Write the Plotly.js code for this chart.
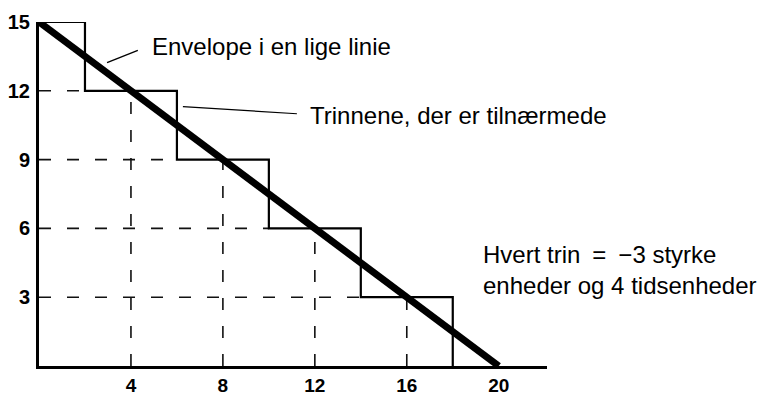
<!DOCTYPE html>
<html>
<head>
<meta charset="utf-8">
<script src="https://cdn.plot.ly/plotly-3.0.1.min.js"></script>
<style>
  html, body { margin: 0; padding: 0; background: #ffffff; }
  #chart { width: 759px; height: 395px; }
</style>
</head>
<body>
<div id="chart"></div>
<script>
// Staircase of discrete steps (strength vs. time)
const stepX = [0, 2, 2, 6, 6, 10, 10, 14, 14, 18, 18];
const stepY = [15, 15, 12, 12, 9, 9, 6, 6, 3, 3, 0];

// Straight-line envelope through the steps
const envelopeX = [0, 20];
const envelopeY = [15, 0];

// Guide points where the envelope crosses each step level
const guideX = [4, 8, 12, 16];
const guideY = [12, 9, 6, 3];
// Left edge of the step at each guide level
const stepLeftX = [2, 6, 10, 14];

// Axis ticks
const xTicks = [4, 8, 12, 16, 20];
const xTickText = ['4', '8', '12', '16', '20'];
const yTicks = [3, 6, 9, 12, 15];
const yTickText = ['3', '6', '9', '12', '15'];

// Labels and their leader lines
const labelEnvelope = 'Envelope i en lige linie';
const labelSteps = 'Trinnene, der er tilnærmede';
const labelNote = 'Hvert trin\u2002=\u2002−3 styrke<br>enheder og 4 tidsenheder';
const leaderEnvelopeX = [2.96, 4.30];
const leaderEnvelopeY = [13.23, 13.76];
const leaderStepsX = [6.26, 11.22];
const leaderStepsY = [11.31, 11.0];

// Dashed guide segments: horizontal from the y axis to the step,
// vertical from the x axis up to the envelope
const hDashX = [], hDashY = [], vDashX = [], vDashY = [];
guideY.forEach((y, i) => {
  hDashX.push(0, stepLeftX[i], null);
  hDashY.push(y, y, null);
});
guideX.forEach((x, i) => {
  vDashX.push(x, x, null);
  vDashY.push(0, guideY[i], null);
});

const fontFamily = '"Liberation Sans", Arial, Helvetica, sans-serif';
const dashStyle = {color: '#111', width: 1.6, dash: '12px,16px'};

const traces = [
  {x: hDashX, y: hDashY, mode: 'lines', line: dashStyle, hoverinfo: 'skip', cliponaxis: false},
  {x: vDashX, y: vDashY, mode: 'lines', line: dashStyle, hoverinfo: 'skip', cliponaxis: false},
  {x: stepX, y: stepY, mode: 'lines', line: {color: '#000', width: 2.2}, cliponaxis: false},
  {x: envelopeX, y: envelopeY, mode: 'lines', line: {color: '#000', width: 7}, cliponaxis: false},
  {x: leaderEnvelopeX, y: leaderEnvelopeY, mode: 'lines', line: {color: '#000', width: 1.4}, cliponaxis: false},
  {x: leaderStepsX, y: leaderStepsY, mode: 'lines', line: {color: '#000', width: 1.2}, cliponaxis: false}
];

const layout = {
  width: 759,
  height: 395,
  margin: {l: 39, r: 212, t: 22, b: 29},
  paper_bgcolor: '#ffffff',
  plot_bgcolor: '#ffffff',
  showlegend: false,
  font: {family: fontFamily, color: '#000'},
  xaxis: {
    range: [0, 22.1],
    showgrid: false,
    zeroline: false,
    showline: true,
    linecolor: '#000',
    linewidth: 3,
    ticks: '',
    tickvals: xTicks,
    ticktext: xTickText,
    tickfont: {family: fontFamily, size: 19, weight: 'bold', color: '#000'},
    ticklabelstandoff: 0,
    fixedrange: true
  },
  yaxis: {
    range: [0, 15],
    showgrid: false,
    zeroline: false,
    showline: true,
    linecolor: '#000',
    linewidth: 3,
    ticks: '',
    tickvals: yTicks,
    ticktext: yTickText,
    tickfont: {family: fontFamily, size: 20, weight: 'bold', color: '#000'},
    ticklabelstandoff: 2,
    fixedrange: true
  },
  annotations: [
    {x: 4.83, y: 13.93, xref: 'x', yref: 'y', text: labelEnvelope, showarrow: false,
     xanchor: 'left', yanchor: 'middle', font: {family: fontFamily, size: 24, color: '#000'}},
    {x: 11.72, y: 10.92, xref: 'x', yref: 'y', text: labelSteps, showarrow: false,
     xanchor: 'left', yanchor: 'middle', font: {family: fontFamily, size: 24, color: '#000'}},
    {x: 19.22, y: 4.19, xref: 'x', yref: 'y', text: labelNote, showarrow: false, align: 'left',
     xanchor: 'left', yanchor: 'middle', font: {family: fontFamily, size: 24, color: '#000'}}
  ]
};

Plotly.newPlot('chart', traces, layout, {displayModeBar: false, staticPlot: true});
</script>
</body>
</html>
